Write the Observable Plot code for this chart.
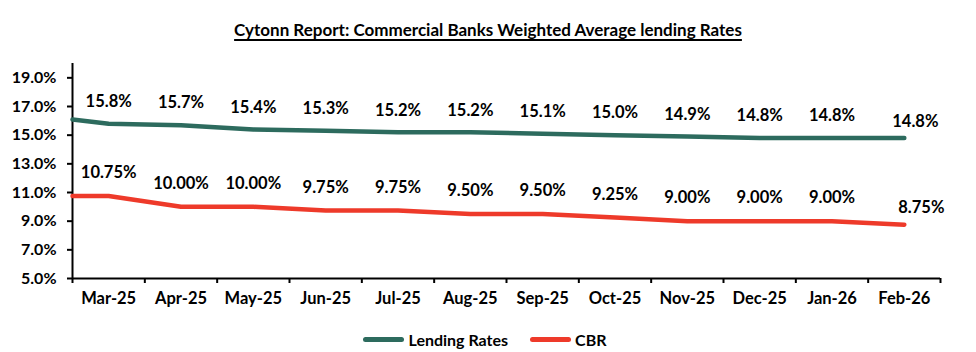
<!DOCTYPE html>
<html>
<head>
<meta charset="utf-8">
<script src="https://cdn.jsdelivr.net/npm/d3@7"></script>
<script src="https://cdn.jsdelivr.net/npm/@observablehq/plot@0.6"></script>
<style>
  html, body { margin: 0; padding: 0; background: #fff; }
  body { width: 976px; height: 352px; overflow: hidden; font-family: Lato, "Noto Sans", sans-serif; color: #000; }
  #title { height: 50px; box-sizing: border-box; padding-top: 19px; text-align: center; font-weight: bold; font-size: 17px; line-height: 22px; }
  #title span { text-decoration: underline; text-decoration-thickness: 2px; text-underline-offset: 3px; }
  #chart svg { display: block; }
  #legend { display: flex; justify-content: center; align-items: center; gap: 22px; height: 37px; box-sizing: border-box; padding-top: 12px; padding-right: 6px; font-weight: bold; font-size: 16px; }
  .item { display: flex; align-items: center; gap: 4px; }
  .sw { width: 41px; height: 5px; border-radius: 3px; }
</style>
</head>
<body>
<div id="title"><span>Cytonn Report: Commercial Banks Weighted Average lending Rates</span></div>
<div id="chart"></div>
<div id="legend"></div>
<script>
// ---- data ----
const months = ["Mar-25","Apr-25","May-25","Jun-25","Jul-25","Aug-25","Sep-25","Oct-25","Nov-25","Dec-25","Jan-26","Feb-26"];
const lending = [15.8, 15.7, 15.4, 15.3, 15.2, 15.2, 15.1, 15.0, 14.9, 14.8, 14.8, 14.8];
const cbr = [10.75, 10.00, 10.00, 9.75, 9.75, 9.50, 9.50, 9.25, 9.00, 9.00, 9.00, 8.75];
// values where each line begins at the left edge of the plot
const lendingStart = 16.1;
const cbrStart = 10.75;
const yTicks = [5, 7, 9, 11, 13, 15, 17, 19];
const seriesNames = ["Lending Rates", "CBR"];
const colors = ["#2D6B5E", "#EE3A2A"];

// ---- build tables ----
const n = months.length;
const lendPts = [{x: 0, v: lendingStart}].concat(lending.map((v, i) => ({x: i + 0.5, v})));
const cbrPts = [{x: 0, v: cbrStart}].concat(cbr.map((v, i) => ({x: i + 0.5, v})));
const lendLab = lending.map((v, i) => ({x: i + 0.5, v, last: i === n - 1}));
const cbrLab = cbr.map((v, i) => ({x: i + 0.5, v, last: i === n - 1}));

const font = "Lato, 'Noto Sans', sans-serif";
const textOpts = {fontSize: 16.5, fontWeight: "bold", fill: "#000", fontFamily: font};

const chart = Plot.plot({
  width: 976,
  height: 265,
  marginLeft: 72,
  marginRight: 36,
  marginTop: 13,
  marginBottom: 37,
  style: {fontFamily: font, fontWeight: "bold", fontSize: "16px", color: "#000", background: "#fff"},
  x: {type: "linear", domain: [0, n], axis: null},
  y: {type: "linear", domain: [5, 20], axis: null},
  marks: [
    Plot.ruleX([0], {y1: 5, y2: 20, stroke: "#000", strokeWidth: 2}),
    Plot.ruleY([5], {x1: 0, x2: n, stroke: "#000", strokeWidth: 2}),
    Plot.axisY({ticks: yTicks, tickFormat: d => d.toFixed(1) + "%", tickSize: 5, tickPadding: 11, stroke: "#000", strokeWidth: 2, fontSize: 16, fontWeight: "bold", label: null}),
    Plot.axisX({ticks: d3.range(0, n + 1), tickFormat: () => "", tickSize: 5, stroke: "#000", strokeWidth: 2, label: null}),
    Plot.axisX({ticks: d3.range(0, n).map(i => i + 0.5), tickFormat: d => months[Math.floor(d)], tickSize: 0, tickPadding: 14, fontSize: 16.5, fontWeight: "bold", label: null}),
    Plot.line(lendPts, {x: "x", y: "v", stroke: colors[0], strokeWidth: 4.5, strokeLinecap: "round", strokeLinejoin: "round"}),
    Plot.line(cbrPts, {x: "x", y: "v", stroke: colors[1], strokeWidth: 4.5, strokeLinecap: "round", strokeLinejoin: "round"}),
    Plot.text(lendLab.filter(d => !d.last), {x: "x", y: "v", text: d => d.v.toFixed(1) + "%", dy: -22, ...textOpts}),
    Plot.text(lendLab.filter(d => d.last), {x: "x", y: "v", text: d => d.v.toFixed(1) + "%", dy: -16, dx: 11, ...textOpts}),
    Plot.text(cbrLab.filter(d => !d.last), {x: "x", y: "v", text: d => d.v.toFixed(2) + "%", dy: -23, ...textOpts}),
    Plot.text(cbrLab.filter(d => d.last), {x: "x", y: "v", text: d => d.v.toFixed(2) + "%", dy: -17, dx: 17, ...textOpts})
  ]
});
document.getElementById("chart").appendChild(chart);

const legend = document.getElementById("legend");
seriesNames.forEach((name, i) => {
  const item = document.createElement("div");
  item.className = "item";
  const sw = document.createElement("div");
  sw.className = "sw";
  sw.style.background = colors[i];
  const lab = document.createElement("span");
  lab.textContent = name;
  item.appendChild(sw);
  item.appendChild(lab);
  legend.appendChild(item);
});
</script>
</body>
</html>
